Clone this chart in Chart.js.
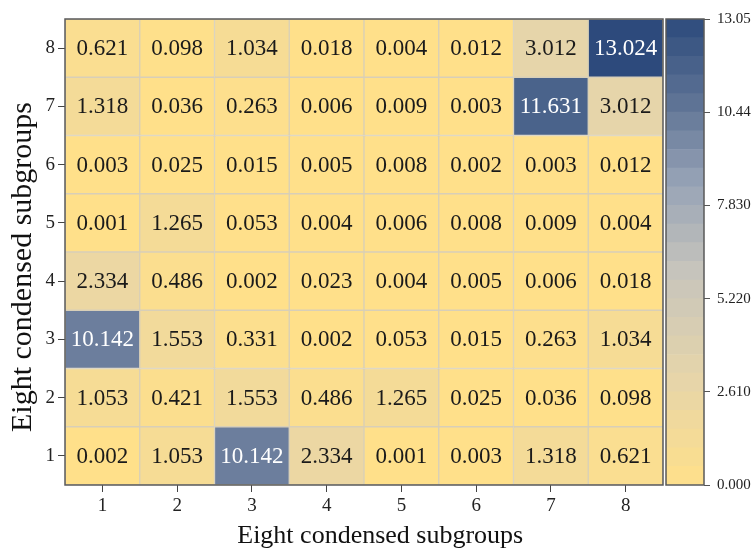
<!DOCTYPE html>
<html>
<head>
<meta charset="utf-8">
<script src="https://cdn.jsdelivr.net/npm/chart.js@4/dist/chart.umd.min.js"></script>
<style>
  body { margin: 0; background: #fff; }
  #wrap { position: relative; width: 755px; height: 552px; }
  #main { position: absolute; left: 0; top: 0; }
  #bar { position: absolute; left: 660px; top: 0; }
</style>
</head>
<body>
<div id="wrap">
  <canvas id="main" width="668" height="552"></canvas>
  <canvas id="bar" width="95" height="552"></canvas>
</div>
<script>
const xLabels = ['1', '2', '3', '4', '5', '6', '7', '8'];
const yLevels = [1, 2, 3, 4, 5, 6, 7, 8];

// one array per row, bottom (1) to top (8)
const row1 = [0.002, 1.053, 10.142, 2.334, 0.001, 0.003, 1.318, 0.621];
const row2 = [1.053, 0.421, 1.553, 0.486, 1.265, 0.025, 0.036, 0.098];
const row3 = [10.142, 1.553, 0.331, 0.002, 0.053, 0.015, 0.263, 1.034];
const row4 = [2.334, 0.486, 0.002, 0.023, 0.004, 0.005, 0.006, 0.018];
const row5 = [0.001, 1.265, 0.053, 0.004, 0.006, 0.008, 0.009, 0.004];
const row6 = [0.003, 0.025, 0.015, 0.005, 0.008, 0.002, 0.003, 0.012];
const row7 = [1.318, 0.036, 0.263, 0.006, 0.009, 0.003, 11.631, 3.012];
const row8 = [0.621, 0.098, 1.034, 0.018, 0.004, 0.012, 3.012, 13.024];
const rows = [row1, row2, row3, row4, row5, row6, row7, row8];

const cbMax = 13.05;
const cbTicks = [0, 2.61, 5.22, 7.83, 10.44, 13.05];
const cbLabels = ['0.000', '2.610', '5.220', '7.830', '10.44', '13.05'];

const serif = '"Liberation Serif", "Times New Roman", serif';

// yellow -> grey -> navy
const stops = [
  [0, [255, 224, 138]],
  [3.0, [230, 213, 170]],
  [6.0, [198, 196, 188]],
  [8.5, [150, 162, 182]],
  [10.44, [100, 120, 152]],
  [13.05, [44, 74, 124]],
];

function colorFor(v) {
  for (let i = 1; i < stops.length; i++) {
    if (v <= stops[i][0] || i === stops.length - 1) {
      const [a, ca] = stops[i - 1];
      const [b, cb] = stops[i];
      const t = Math.max(0, Math.min(1, (v - a) / (b - a)));
      const c = ca.map((x, k) => Math.round(x + (cb[k] - x) * t));
      return `rgb(${c[0]},${c[1]},${c[2]})`;
    }
  }
}

const frame = {
  id: 'frame',
  afterDatasetsDraw(chart) {
    const ctx = chart.ctx;
    const a = chart.chartArea;
    ctx.save();
    if (chart.options.plugins.frame.text) {
      ctx.font = '23px ' + serif;
      ctx.textAlign = 'center';
      ctx.textBaseline = 'middle';
      chart.data.datasets.forEach((ds, i) => {
        chart.getDatasetMeta(i).data.forEach((bar, j) => {
          const v = ds.values[j];
          ctx.fillStyle = v > 8 ? '#ffffff' : '#1a1a1a';
          ctx.fillText(v.toFixed(3), bar.x, (bar.y + bar.base) / 2 + 1);
        });
      });
    }
    ctx.strokeStyle = '#5a5a5a';
    ctx.lineWidth = 1.5;
    ctx.strokeRect(a.left, a.top, a.right - a.left, a.bottom - a.top);
    ctx.restore();
  }
};

const tickGrid = {
  drawOnChartArea: false,
  drawTicks: true,
  tickLength: 7,
  color: '#444',
  offset: false,
};

new Chart(document.getElementById('main'), {
  type: 'bar',
  data: {
    labels: xLabels,
    datasets: rows.map((vals, i) => ({
      data: vals.map(() => [yLevels[i] - 0.5, yLevels[i] + 0.5]),
      values: vals,
      backgroundColor: vals.map(colorFor),
      borderColor: '#d8cfb8',
      borderWidth: 1,
      borderSkipped: false,
      categoryPercentage: 1,
      barPercentage: 1,
      grouped: false,
    })),
  },
  options: {
    responsive: false,
    animation: false,
    layout: { padding: { top: 19, right: 5, left: 0, bottom: 0 } },
    plugins: {
      legend: { display: false },
      tooltip: { enabled: false },
      frame: { text: true },
    },
    scales: {
      x: {
        offset: true,
        grid: tickGrid,
        border: { display: false },
        ticks: { font: { family: serif, size: 19 }, color: '#222', padding: 3 },
        title: {
          display: true,
          // leading spaces nudge the title right, as in the source figure
          text: '     Eight condensed subgroups',
          font: { family: serif, size: 26 },
          color: '#111',
          padding: { top: 0, bottom: 0 },
        },
        afterFit: s => { s.height = 67; },
      },
      y: {
        min: 0.5,
        max: 8.5,
        afterBuildTicks: s => { s.ticks = yLevels.map(v => ({ value: v })); },
        grid: tickGrid,
        border: { display: false },
        ticks: { font: { family: serif, size: 19 }, color: '#222', padding: 3 },
        title: {
          display: true,
          text: 'Eight condensed subgroups    ',
          font: { family: serif, size: 30 },
          color: '#111',
          padding: { top: 5, bottom: 0 },
        },
        afterFit: s => { s.width = 65; },
      },
    },
  },
  plugins: [frame],
});

// colour bar, drawn as stacked floating steps
const cbSteps = 25;
const cbEdges = Array.from({ length: cbSteps + 1 }, (_, i) => (cbMax * i) / cbSteps);

new Chart(document.getElementById('bar'), {
  type: 'bar',
  data: {
    labels: [''],
    datasets: cbEdges.slice(0, -1).map((lo, i) => ({
      data: [[lo, cbEdges[i + 1]]],
      backgroundColor: colorFor((lo + cbEdges[i + 1]) / 2),
      borderWidth: 0,
      categoryPercentage: 1,
      barPercentage: 1,
      grouped: false,
    })),
  },
  options: {
    responsive: false,
    animation: false,
    layout: { padding: { top: 19, right: 0, left: 6, bottom: 67 } },
    plugins: {
      legend: { display: false },
      tooltip: { enabled: false },
      frame: { text: false },
    },
    scales: {
      x: { display: false },
      y: {
        position: 'right',
        min: 0,
        max: cbMax,
        afterBuildTicks: s => { s.ticks = cbTicks.map(v => ({ value: v })); },
        grid: { drawOnChartArea: false, drawTicks: true, tickLength: 6, color: '#555' },
        border: { display: false },
        ticks: {
          font: { family: serif, size: 15 },
          color: '#222',
          padding: 7,
          callback: (v, i) => cbLabels[i],
        },
        afterFit: s => { s.width = 51; },
      },
    },
  },
  plugins: [frame],
});
</script>
</body>
</html>
